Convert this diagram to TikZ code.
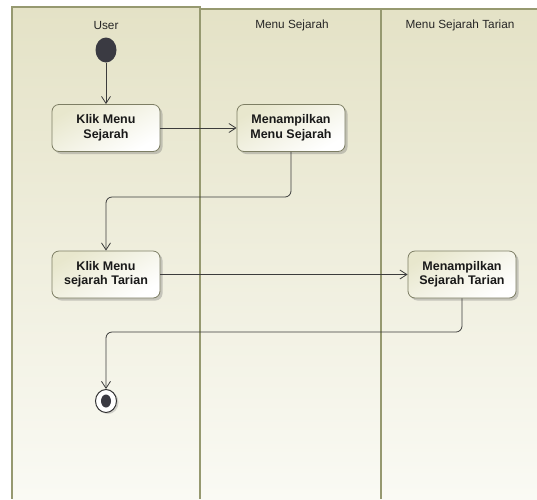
\documentclass[tikz,border=0pt]{standalone}
\usepackage{fontspec}
\setmainfont{Liberation Sans}
\usetikzlibrary{arrows.meta,shadows,shapes.geometric}

\definecolor{lanetop}{RGB}{228,226,198}
\definecolor{lanebot}{RGB}{250,250,244}
\definecolor{laneline}{RGB}{150,153,112}
\definecolor{nodetop}{RGB}{232,231,205}
\definecolor{nodeline}{RGB}{125,126,100}
\definecolor{flowline}{RGB}{60,60,60}
\definecolor{dotfill}{RGB}{58,58,66}

\begin{document}
\begin{tikzpicture}[x=1pt,y=-1pt,
  lane/.style={draw=laneline, line width=1.1pt},
  lanefill/.style={top color=lanetop, bottom color=lanebot},
  head/.style={font=\fontsize{11.8}{13}\selectfont, text=black!85},
  action/.style={rectangle, rounded corners=7pt, draw=nodeline, line width=0.8pt,
    top color=nodetop, bottom color=white, shading angle=30,
    minimum width=108pt, minimum height=47pt, inner sep=2pt, align=center,
    font=\bfseries\fontsize{12.5}{14.5}\selectfont, text=black!90,
    drop shadow={shadow xshift=2.5pt, shadow yshift=-2.5pt, opacity=0.35, fill=black!55}},
  flow/.style={draw=flowline, line width=0.8pt, rounded corners=6pt,
    -{Straight Barb[length=7pt,width=9pt]}},
  startdot/.style={ellipse, fill=dotfill, inner sep=0pt,
    minimum width=21pt, minimum height=25pt},
  endring/.style={ellipse, draw=black!80, line width=1pt, fill=white, inner sep=0pt,
    minimum width=21pt, minimum height=23pt,
    drop shadow={shadow xshift=2pt, shadow yshift=-1.5pt, opacity=0.3, fill=black!50}},
  enddot/.style={ellipse, fill=dotfill, inner sep=0pt,
    minimum width=10pt, minimum height=13pt}]

  % canvas
  \useasboundingbox (0,0) rectangle (537,499);
  \fill[white] (0,0) rectangle (537,499);

  % swimlanes
  \shade[lanefill] (12,7) rectangle (200,499);
  \shade[lanefill] (200,9) rectangle (537,499);
  \draw[lane] (12,499) -- (12,7) -- (200,7) -- (200,499);
  \draw[lane] (200,9) -- (537,9);
  \draw[lane] (381,9) -- (381,499);

  % lane headers
  \node[head] (hUser) at (106,25) {User};
  \node[head] (hMenu) at (292,25) {Menu Sejarah};
  \node[head] (hTari) at (460,25) {Menu Sejarah Tarian};

  % activity nodes
  \node[startdot] (start) at (106,50) {};
  \node[action] (act1) at (106,128) {Klik Menu\\Sejarah};
  \node[action] (act2) at (291,128) {Menampilkan\\Menu Sejarah};
  \node[action] (act3) at (106,274.5) {Klik Menu\\sejarah Tarian};
  \node[action] (act4) at (462,274.5) {Menampilkan\\Sejarah Tarian};
  \node[endring] (stop) at (106,401) {};
  \node[enddot] (stopdot) at (stop) {};

  % control flow
  \coordinate (turn1) at (106,197);
  \coordinate (turn2) at (106,332);
  \draw[flow] (start) -- (act1);
  \draw[flow] (act1) -- (act2);
  \draw[flow] (act2.south) |- (turn1) -- (act3.north);
  \draw[flow] (act3) -- (act4);
  \draw[flow] (act4.south) |- (turn2) -- (stop.north);
\end{tikzpicture}
\end{document}
